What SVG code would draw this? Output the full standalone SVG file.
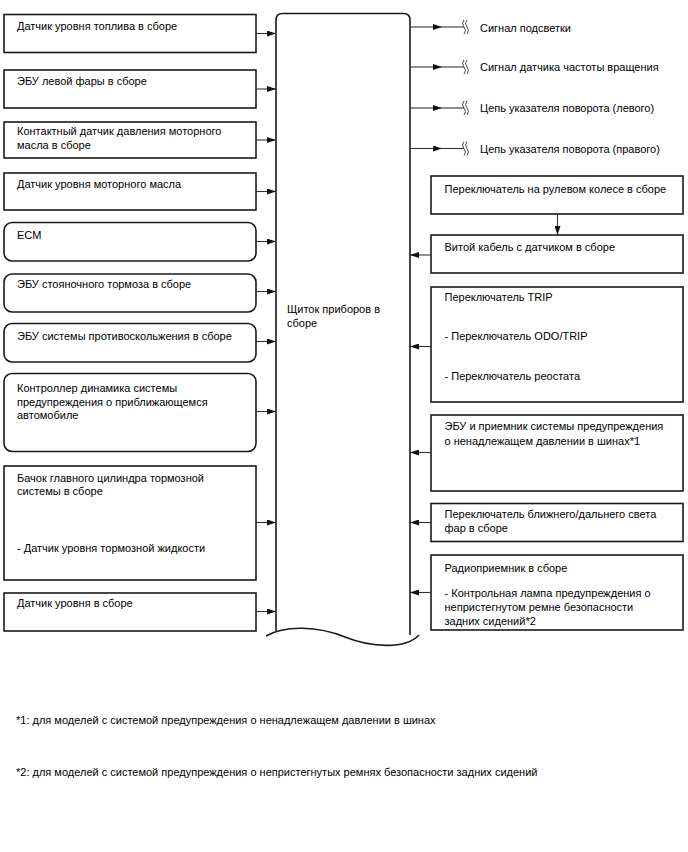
<svg xmlns="http://www.w3.org/2000/svg" width="688" height="852" viewBox="0 0 688 852">
<defs>
<style>
.box{fill:#fff;stroke:#1a1a1a;stroke-width:1.6}
.t{font-family:"Liberation Sans",Arial,sans-serif;font-size:11px;fill:#000}
.c{fill:none;stroke:#333;stroke-width:1.1}
.sq{fill:none;stroke:#333;stroke-width:0.9}
</style>
<marker id="ah" viewBox="0 0 9 6" refX="9" refY="3" markerWidth="9" markerHeight="6" markerUnits="userSpaceOnUse" orient="auto">
<path d="M0,0 L9,3 L0,6 z" fill="#111"/>
</marker>
</defs>
<rect width="688" height="852" fill="#fff"/>

<g id="cluster">
<path class="box" d="M276,631 L276,20 Q276,13.5 282.5,13.5 L403.5,13.5 Q410,13.5 410,20 L410,639"/>
<path class="box" d="M266,636 C285,625 318,626 345,637 C370,647 405,650 419,635"/>
<text class="t" x="287" y="313">Щиток приборов в</text>
<text class="t" x="287" y="327">сборе</text>
</g>

<g id="fuel"><rect class="box" x="4" y="14.5" width="252" height="38"/><text class="t" x="17" y="30">Датчик уровня топлива в сборе</text></g>
<g id="lhead"><rect class="box" x="4" y="70" width="252" height="38"/><text class="t" x="17" y="85">ЭБУ левой фары в сборе</text></g>
<g id="oilpress"><rect class="box" x="4" y="122" width="252" height="36"/><text class="t" x="17" y="135">Контактный датчик давления моторного</text><text class="t" x="17" y="148.5">масла в сборе</text></g>
<g id="oillevel"><rect class="box" x="4" y="173" width="252" height="37"/><text class="t" x="17" y="188">Датчик уровня моторного масла</text></g>
<g id="ecm"><rect class="box" x="4" y="222.5" width="252" height="38.5" rx="8"/><text class="t" x="17" y="239">ECM</text></g>
<g id="parkbrake"><rect class="box" x="4" y="274" width="252" height="38" rx="8"/><text class="t" x="17" y="288">ЭБУ стояночного тормоза в сборе</text></g>
<g id="skid"><rect class="box" x="4" y="323.5" width="252" height="38.5" rx="8"/><text class="t" x="17" y="339.5">ЭБУ системы противоскольжения в сборе</text></g>
<g id="speaker"><rect class="box" x="4" y="373.5" width="252" height="78" rx="8"/><text class="t" x="17" y="392">Контроллер динамика системы</text><text class="t" x="17" y="405.5">предупреждения о приближающемся</text><text class="t" x="17" y="419">автомобиле</text></g>
<g id="brakefluid"><rect class="box" x="4" y="466" width="252" height="114"/><text class="t" x="17" y="481.5">Бачок главного цилиндра тормозной</text><text class="t" x="17" y="495">системы в сборе</text><text class="t" x="17" y="552">- Датчик уровня тормозной жидкости</text></g>
<g id="level"><rect class="box" x="4" y="593" width="252" height="38"/><text class="t" x="17" y="607">Датчик уровня в сборе</text></g>

<g id="steersw"><rect class="box" x="431" y="176" width="252" height="38"/><text class="t" x="444.5" y="193">Переключатель на рулевом колесе в сборе</text></g>
<g id="spiral"><rect class="box" x="431" y="235" width="252" height="38"/><text class="t" x="444.5" y="251">Витой кабель с датчиком в сборе</text></g>
<g id="trip"><rect class="box" x="431" y="287" width="252" height="115"/><text class="t" x="444.5" y="300.5">Переключатель TRIP</text><text class="t" x="444.5" y="340">- Переключатель ODO/TRIP</text><text class="t" x="444.5" y="380">- Переключатель реостата</text></g>
<g id="tpms"><rect class="box" x="431" y="415" width="252" height="76"/><text class="t" x="444.5" y="430">ЭБУ и приемник системы предупреждения</text><text class="t" x="444.5" y="444.5">о ненадлежащем давлении в шинах*1</text></g>
<g id="dimmer"><rect class="box" x="431" y="503.5" width="252" height="38"/><text class="t" x="444.5" y="518">Переключатель ближнего/дальнего света</text><text class="t" x="444.5" y="532">фар в сборе</text></g>
<g id="radio"><rect class="box" x="431" y="555" width="252" height="75"/><text class="t" x="444.5" y="572">Радиоприемник в сборе</text><text class="t" x="444.5" y="597">- Контрольная лампа предупреждения о</text><text class="t" x="444.5" y="610.5">непристегнутом ремне безопасности</text><text class="t" x="444.5" y="624.5">задних сидений*2</text></g>

<g id="signals">
<text class="t" x="480" y="31.5">Сигнал подсветки</text>
<text class="t" x="480" y="71">Сигнал датчика частоты вращения</text>
<text class="t" x="480" y="112">Цепь указателя поворота (левого)</text>
<text class="t" x="480" y="152.5">Цепь указателя поворота (правого)</text>
</g>

<g id="connectors">
<line class="c" x1="256" y1="33.5" x2="276" y2="33.5" marker-end="url(#ah)"/>
<line class="c" x1="256" y1="89" x2="276" y2="89" marker-end="url(#ah)"/>
<line class="c" x1="256" y1="140" x2="276" y2="140" marker-end="url(#ah)"/>
<line class="c" x1="256" y1="191.5" x2="276" y2="191.5" marker-end="url(#ah)"/>
<line class="c" x1="256" y1="241.5" x2="276" y2="241.5" marker-end="url(#ah)"/>
<line class="c" x1="256" y1="291.5" x2="276" y2="291.5" marker-end="url(#ah)"/>
<line class="c" x1="256" y1="341.5" x2="276" y2="341.5" marker-end="url(#ah)"/>
<line class="c" x1="256" y1="411.5" x2="276" y2="411.5" marker-end="url(#ah)"/>
<line class="c" x1="256" y1="522.5" x2="276" y2="522.5" marker-end="url(#ah)"/>
<line class="c" x1="256" y1="611.5" x2="276" y2="611.5" marker-end="url(#ah)"/>

<line class="c" x1="431" y1="255" x2="410" y2="255" marker-end="url(#ah)"/>
<line class="c" x1="431" y1="346.5" x2="410" y2="346.5" marker-end="url(#ah)"/>
<line class="c" x1="431" y1="452.5" x2="410" y2="452.5" marker-end="url(#ah)"/>
<line class="c" x1="431" y1="522.5" x2="410" y2="522.5" marker-end="url(#ah)"/>
<line class="c" x1="431" y1="592.5" x2="410" y2="592.5" marker-end="url(#ah)"/>
<line class="c" x1="557.5" y1="214" x2="557.5" y2="235" marker-end="url(#ah)"/>

<line class="c" x1="410" y1="27" x2="442" y2="27" marker-end="url(#ah)"/><line class="c" x1="442" y1="27" x2="464" y2="27"/>
<line class="c" x1="410" y1="67" x2="442" y2="67" marker-end="url(#ah)"/><line class="c" x1="442" y1="67" x2="464" y2="67"/>
<line class="c" x1="410" y1="108" x2="442" y2="108" marker-end="url(#ah)"/><line class="c" x1="442" y1="108" x2="464" y2="108"/>
<line class="c" x1="410" y1="148.5" x2="442" y2="148.5" marker-end="url(#ah)"/><line class="c" x1="442" y1="148.5" x2="464" y2="148.5"/>

<path class="sq" d="M464,20 q-3,3.5 0,7 q3,3.5 0,7 M467,20 q-3,3.5 0,7 q3,3.5 0,7"/>
<path class="sq" d="M464,60 q-3,3.5 0,7 q3,3.5 0,7 M467,60 q-3,3.5 0,7 q3,3.5 0,7"/>
<path class="sq" d="M464,101 q-3,3.5 0,7 q3,3.5 0,7 M467,101 q-3,3.5 0,7 q3,3.5 0,7"/>
<path class="sq" d="M464,141.5 q-3,3.5 0,7 q3,3.5 0,7 M467,141.5 q-3,3.5 0,7 q3,3.5 0,7"/>
</g>

<g id="notes">
<text class="t" x="16" y="724">*1: для моделей с системой предупреждения о ненадлежащем давлении в шинах</text>
<text class="t" x="16" y="776">*2: для моделей с системой предупреждения о непристегнутых ремнях безопасности задних сидений</text>
</g>
</svg>
